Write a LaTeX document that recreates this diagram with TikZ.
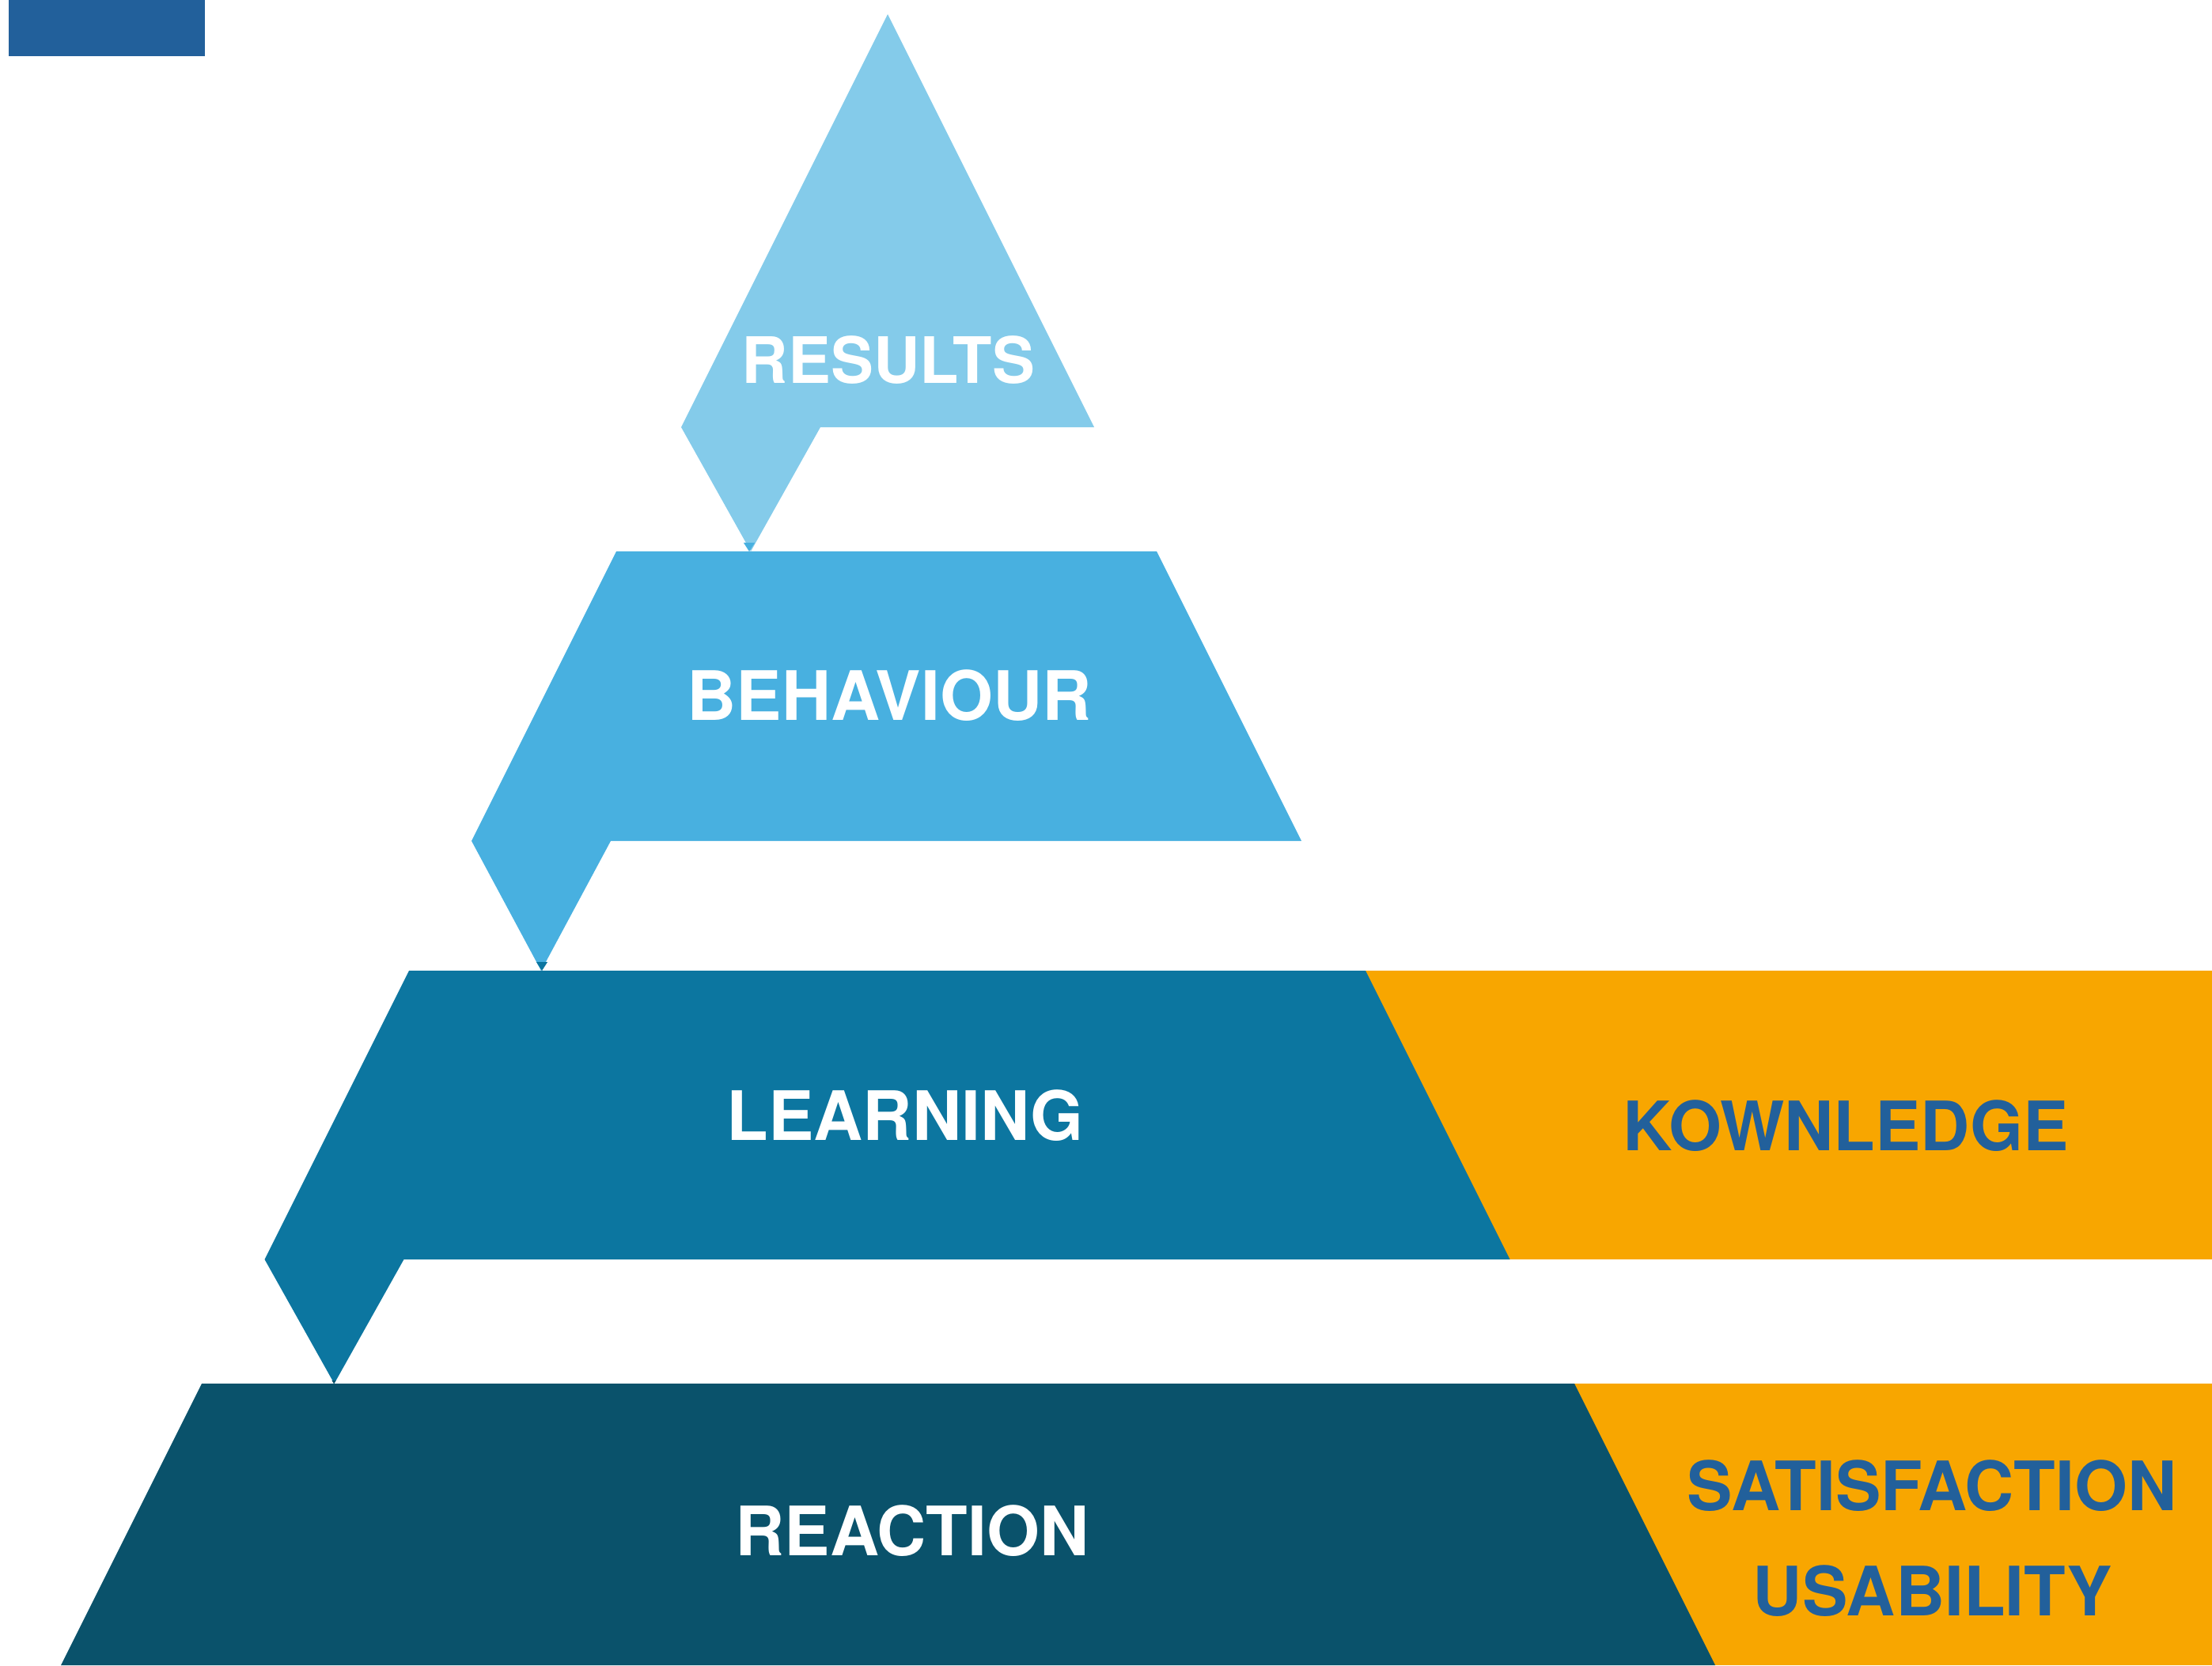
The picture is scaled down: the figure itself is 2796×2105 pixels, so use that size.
\documentclass[tikz,border=0pt]{standalone}
\usepackage{fontspec}
\setmainfont{TeX Gyre Heros}
\usepackage{tikz}
\usetikzlibrary{math,arrows.meta}
\definecolor{HeadBlue}{HTML}{22609B}
\definecolor{TierOne}{HTML}{84CBEA}
\definecolor{TierTwo}{HTML}{48B0E0}
\definecolor{TierThree}{HTML}{0C76A0}
\definecolor{TierFour}{HTML}{0A526B}
\definecolor{TagOrange}{HTML}{F8A600}
\tikzset{%
  px/.style={x=0.01cm,y=-0.01cm},
  tier label/.style={text=white,inner sep=0pt,
    font=\fontsize{24.5}{28}\selectfont\bfseries},
  tag label/.style={text=HeadBlue,inner sep=0pt,
    font=\fontsize{24.5}{28}\selectfont\bfseries},
  tip arrow/.style={-{Triangle[length=0.11cm,width=0.14cm]},line width=0.1pt}
}

\begin{document}
\begin{tikzpicture}[px]
    \useasboundingbox (0,0) rectangle (2796,2105);
    \tikzmath{
      \nw=176; % notch width
      \nd=88; % notch tip offset
    }
    \fill [color=HeadBlue] (11,0) rectangle (259,71);
    % orange tags behind the pyramid
    \fill [color=TagOrange] (1700,1227) rectangle (2796,1592);
    \fill [color=TagOrange] (1960,1749) rectangle (2796,2105);
    \foreach \yt/\xl/\xr/\yb/\yn/\col in {18/1122/1122/540/697/TierOne,
        697/779/1462/1063/1227/TierTwo, 1227/517/1726/1592/1749/TierThree} {
      \tikzmath{\h=(\yb-\yt)/2; \bl=\xl-\h; \br=\xr+\h;}
      \fill [color=\col] (\xl,\yt) -- (\xr,\yt) -- (\br,\yb) -- (\bl+\nw,\yb)
        -- (\bl+\nd,\yn) -- (\bl,\yb) -- cycle;
    }
    \fill [color=TierFour] (255,1749) -- (1990,1749) -- (2168,2105) -- (77,2105) -- cycle;
    % tips between tiers
    \coordinate (t1tip) at (947,686);
    \coordinate (t2top) at (947,697);
    \coordinate (t2tip) at (685,1216);
    \coordinate (t3top) at (685,1227);
    \coordinate (t3tip) at (422,1745);
    \coordinate (t4top) at (422,1749);
    \draw [tip arrow,TierTwo] (t1tip) -- (t2top);
    \draw [tip arrow,TierThree] (t2tip) -- (t3top);
    \draw [-{Triangle[length=0.04cm,width=0.05cm]},line width=0.1pt,TierFour] (t3tip) -- (t4top);
    % labels
    \node [tier label,font=\fontsize{23}{28}\selectfont\bfseries] (results) at (1123,455) {RESULTS};
    \node [tier label] (behaviour) at (1124,879) {BEHAVIOUR};
    \node [tier label] (learning) at (1144,1410) {LEARNING};
    \node [tier label] (reaction) at (1153,1935) {REACTION};
    \node [tag label] (kownledge) at (2333,1423) {KOWNLEDGE};
    \node [tag label] (satisfaction) at (2442,1878) {SATISFACTION};
    \node [tag label] (usability) at (2443,2011) {USABILITY};
  \end{tikzpicture}
\end{document}
